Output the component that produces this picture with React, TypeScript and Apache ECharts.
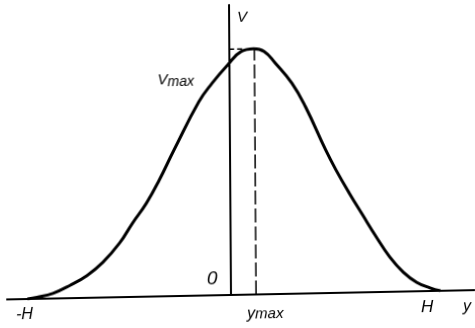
import React, { useEffect, useRef } from "react";
import * as echarts from "echarts";

// Position across the channel (units of H) and velocity (units of Vmax)
const yPos = [-1.0, -0.952, -0.874, -0.79, -0.706, -0.628, -0.545, -0.481, -0.412, -0.348, -0.274, -0.151, -0.086, -0.007, 0.06, 0.12, 0.172, 0.226, 0.307, 0.373, 0.471, 0.521, 0.586, 0.651, 0.717, 0.782, 0.848, 0.913, 0.979, 1.03];
const vVal = [0.0, 0.006, 0.021, 0.052, 0.091, 0.143, 0.22, 0.3, 0.38, 0.473, 0.595, 0.788, 0.862, 0.937, 0.99, 1.0, 0.988, 0.94, 0.857, 0.76, 0.582, 0.5, 0.404, 0.314, 0.224, 0.142, 0.079, 0.037, 0.013, 0.0];
const yMaxPos = 0.124;
const vMax = 1.0;
const xRange = [-1.1, 1.2];
const vRange = [0, 1.18];

const fontFamily = "'Liberation Sans', Arial, sans-serif";

export default function App() {
  const ref = useRef<HTMLDivElement>(null);
  useEffect(() => {
    const chart = echarts.init(ref.current!, null, { renderer: "svg" });
    const txt = (text: string, x: number, y: number, size = 15, rich?: any) => ({
      type: "text",
      x,
      y,
      style: {
        text,
        fill: "#000",
        fontStyle: "italic",
        fontSize: size,
        fontFamily,
        verticalAlign: "top",
        rich,
      },
    });
    const sty = (size: number, padTop = 0) => ({
      fontSize: size,
      fontStyle: "italic",
      fontFamily,
      fill: "#000",
      padding: [padTop, 0, 0, 0],
    });
    chart.setOption({
      animation: false,
      backgroundColor: "#fff",
      grid: { left: 7, right: 0, top: 5, bottom: 33 },
      xAxis: {
        type: "value",
        min: xRange[0],
        max: xRange[1],
        axisLine: { show: true, onZero: true, lineStyle: { color: "#000", width: 2 } },
        axisTick: { show: false },
        axisLabel: { show: false },
        splitLine: { show: false },
      },
      yAxis: {
        type: "value",
        min: vRange[0],
        max: vRange[1],
        axisLine: { show: true, onZero: true, lineStyle: { color: "#000", width: 2 } },
        axisTick: { show: false },
        axisLabel: { show: false },
        splitLine: { show: false },
      },
      series: [
        {
          type: "line",
          data: yPos.map((p, i) => [p, vVal[i]]),
          smooth: 0.45,
          symbol: "none",
          lineStyle: { color: "#000", width: 3 },
        },
        {
          type: "line",
          data: [
            [yMaxPos, 0],
            [yMaxPos, vMax],
          ],
          symbol: "none",
          lineStyle: { color: "#000", width: 1.5, type: [14, 4] },
        },
        {
          type: "line",
          data: [
            [0, vMax],
            [yMaxPos * 0.55, vMax],
          ],
          symbol: "none",
          lineStyle: { color: "#000", width: 1.5, type: [5, 3] },
        },
      ],
      graphic: [
        txt("V", 239, 9, 15),
        txt("{b|V}{s|max}", 159, 67, 15, { b: sty(15), s: sty(14, 6) }),
        txt("0", 207, 268, 19),
        txt("-H", 16, 301, 16),
        txt("{b|y}{s|max}", 247, 305, 16, { b: sty(16), s: sty(15, 1) }),
        txt("H", 421, 302, 17),
        txt("y", 463, 302, 16),
      ],
    });
    return () => chart.dispose();
  }, []);
  return (
    <div
      ref={ref}
      style={{
        position: "fixed",
        left: 0,
        top: 0,
        width: 475,
        height: 328,
        background: "#fff",
        transformOrigin: "230px 295px",
        transform: "matrix(1, -0.0199, 0.0068, 1, 0, 0)",
      }}
    />
  );
}
